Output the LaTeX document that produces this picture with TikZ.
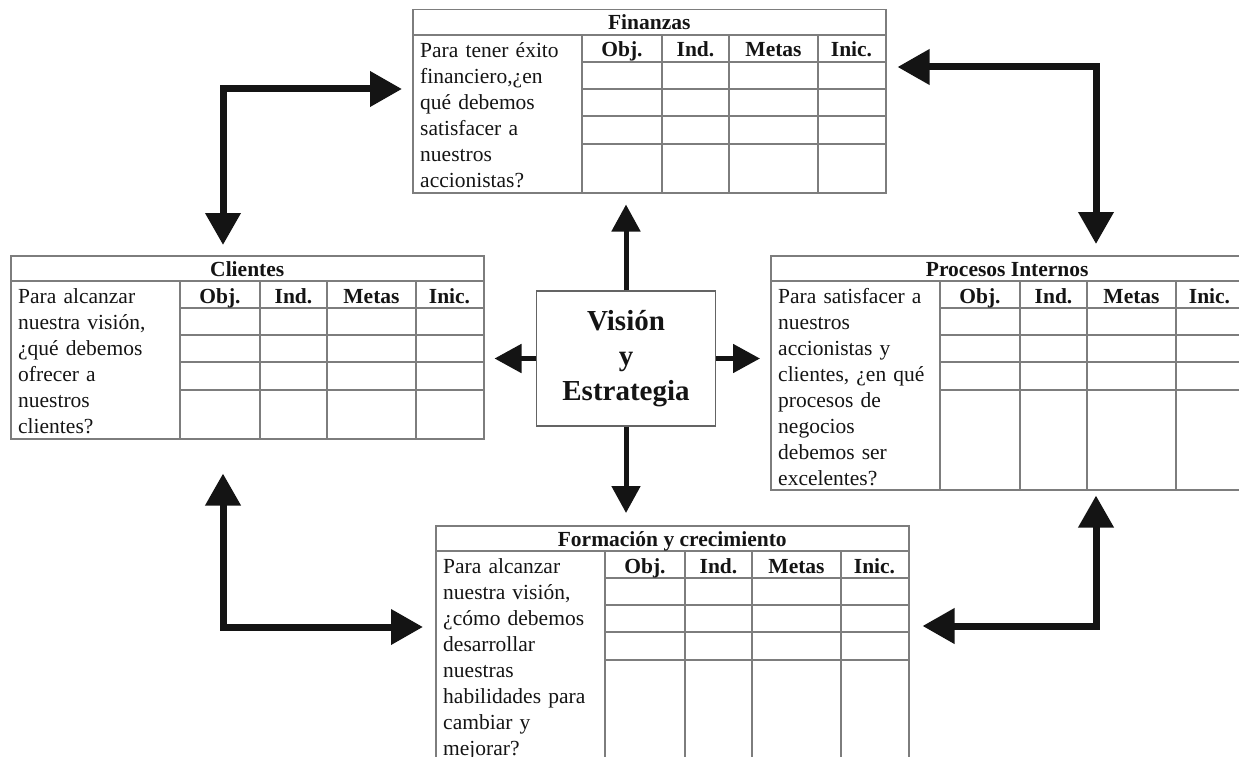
\documentclass[tikz,border=0pt]{standalone}
\usepackage{fontspec}
\setmainfont{Liberation Serif}
\usepackage{tikz}
\usetikzlibrary{positioning}
\usetikzlibrary{arrows.meta,calc}

\definecolor{tabgray}{RGB}{125,125,125}
\definecolor{inkblack}{RGB}{20,20,20}

\tikzset{
  tabframe/.style={draw=tabgray, line width=1.5pt, minimum width=473pt, inner sep=0pt},
  tabline/.style={draw=tabgray, line width=1.5pt},
  tabtext/.style={font=\fontsize{21.5}{26}\selectfont, text=inkblack, inner sep=0pt},
  tabhead/.style={font=\fontsize{21.5}{26}\selectfont\bfseries, text=inkblack, inner sep=0pt, anchor=base},
  visbox/.style={draw=tabgray!80!black, line width=1.5pt, minimum width=179pt, minimum height=135pt,
    align=center, font=\fontsize{29}{35}\selectfont\bfseries, text=inkblack},
  link/.style={draw=inkblack, line width=7pt, {Triangle[length=32pt,width=34pt]}-{Triangle[length=32pt,width=34pt]}},
  spoke/.style={draw=inkblack, line width=5pt, -{Triangle[length=27pt,width=28pt]}},
}

% #1 name, #2 north west corner, #3 height, #4 title, #5 question
\newcommand{\bsctable}[5]{%
  \node[tabframe, minimum height=#3, anchor=north west] (#1) at (#2) {};
  \draw[tabline] ($(#1.north west)+(0,26)$) -- ++(473,0);
  \foreach \ry in {53,80,107,135}
    \draw[tabline] ($(#1.north west)+(170,\ry)$) -- ++(303,0);
  \foreach \cx in {170,250,317,406}
    \draw[tabline] ($(#1.north west)+(\cx,26)$) -- ($(#1.south west)+(\cx,0)$);
  \node[tabhead] at ($(#1.north)+(0,21)$) {#4};
  \foreach \hd/\cx in {Obj./210,Ind./283.5,Metas/361.5,Inic./439.5}
    \node[tabhead] at ($(#1.north west)+(\cx,48)$) {\hd};
  \node[tabtext, anchor=north west, text width=165pt, align=left] (#1q) at ($(#1.north west)+(8,30)$) {\strut #5};
}

\begin{document}
\begin{tikzpicture}[x=1pt, y=-1pt]
\useasboundingbox (0,0) rectangle (1239,757);
\clip (0,0) rectangle (1239,757);

\bsctable{fin}{412,9}{183}{Finanzas}{Para tener éxito\\financiero,¿en\\qué debemos\\satisfacer a\\nuestros\\accionistas?}
\bsctable{cli}{10,255}{183}{Clientes}{Para alcanzar\\nuestra visión,\\¿qué debemos\\ofrecer a\\nuestros\\clientes?}
\bsctable{pro}{770,255}{234}{Procesos Internos}{Para satisfacer a\\nuestros\\accionistas y\\clientes, ¿en qué\\procesos de\\negocios\\debemos ser\\excelentes?}
\bsctable{form}{435,525}{245}{Formación y crecimiento}{Para alcanzar\\nuestra visión,\\¿cómo debemos\\desarrollar\\nuestras\\habilidades para\\cambiar y\\mejorar?}

\node[visbox] (vis) at (626,358.5) {Visión\\y\\Estrategia};

\draw[spoke] (vis.north) -- ($(vis.north |- fin.south)+(0,11)$);
\draw[spoke] (vis.west) -- ($(vis.west -| cli.east)+(10,0)$);
\draw[spoke] (vis.east) -- ($(vis.east -| pro.west)+(-10,0)$);
\draw[spoke] (vis.south) -- ($(vis.south |- form.north)+(0,-12)$);

\coordinate (tl) at (223,89);
\coordinate (tr) at (1096,67);
\coordinate (bl) at (223,627);
\coordinate (br) at (1096,626);

\draw[link, shorten <=10pt, shorten >=10pt] (cli.north -| tl) -- (tl) -- (fin.west |- tl);
\draw[link, shorten <=11pt, shorten >=11pt] (fin.east |- tr) -- (tr) -- (pro.north -| tr);
\draw[link, shorten <=34pt, shorten >=12pt] (cli.south -| bl) -- (bl) -- (form.west |- bl);
\draw[link, shorten <=5pt, shorten >=13pt] (pro.south -| br) -- (br) -- (form.east |- br);
\end{tikzpicture}
\end{document}
